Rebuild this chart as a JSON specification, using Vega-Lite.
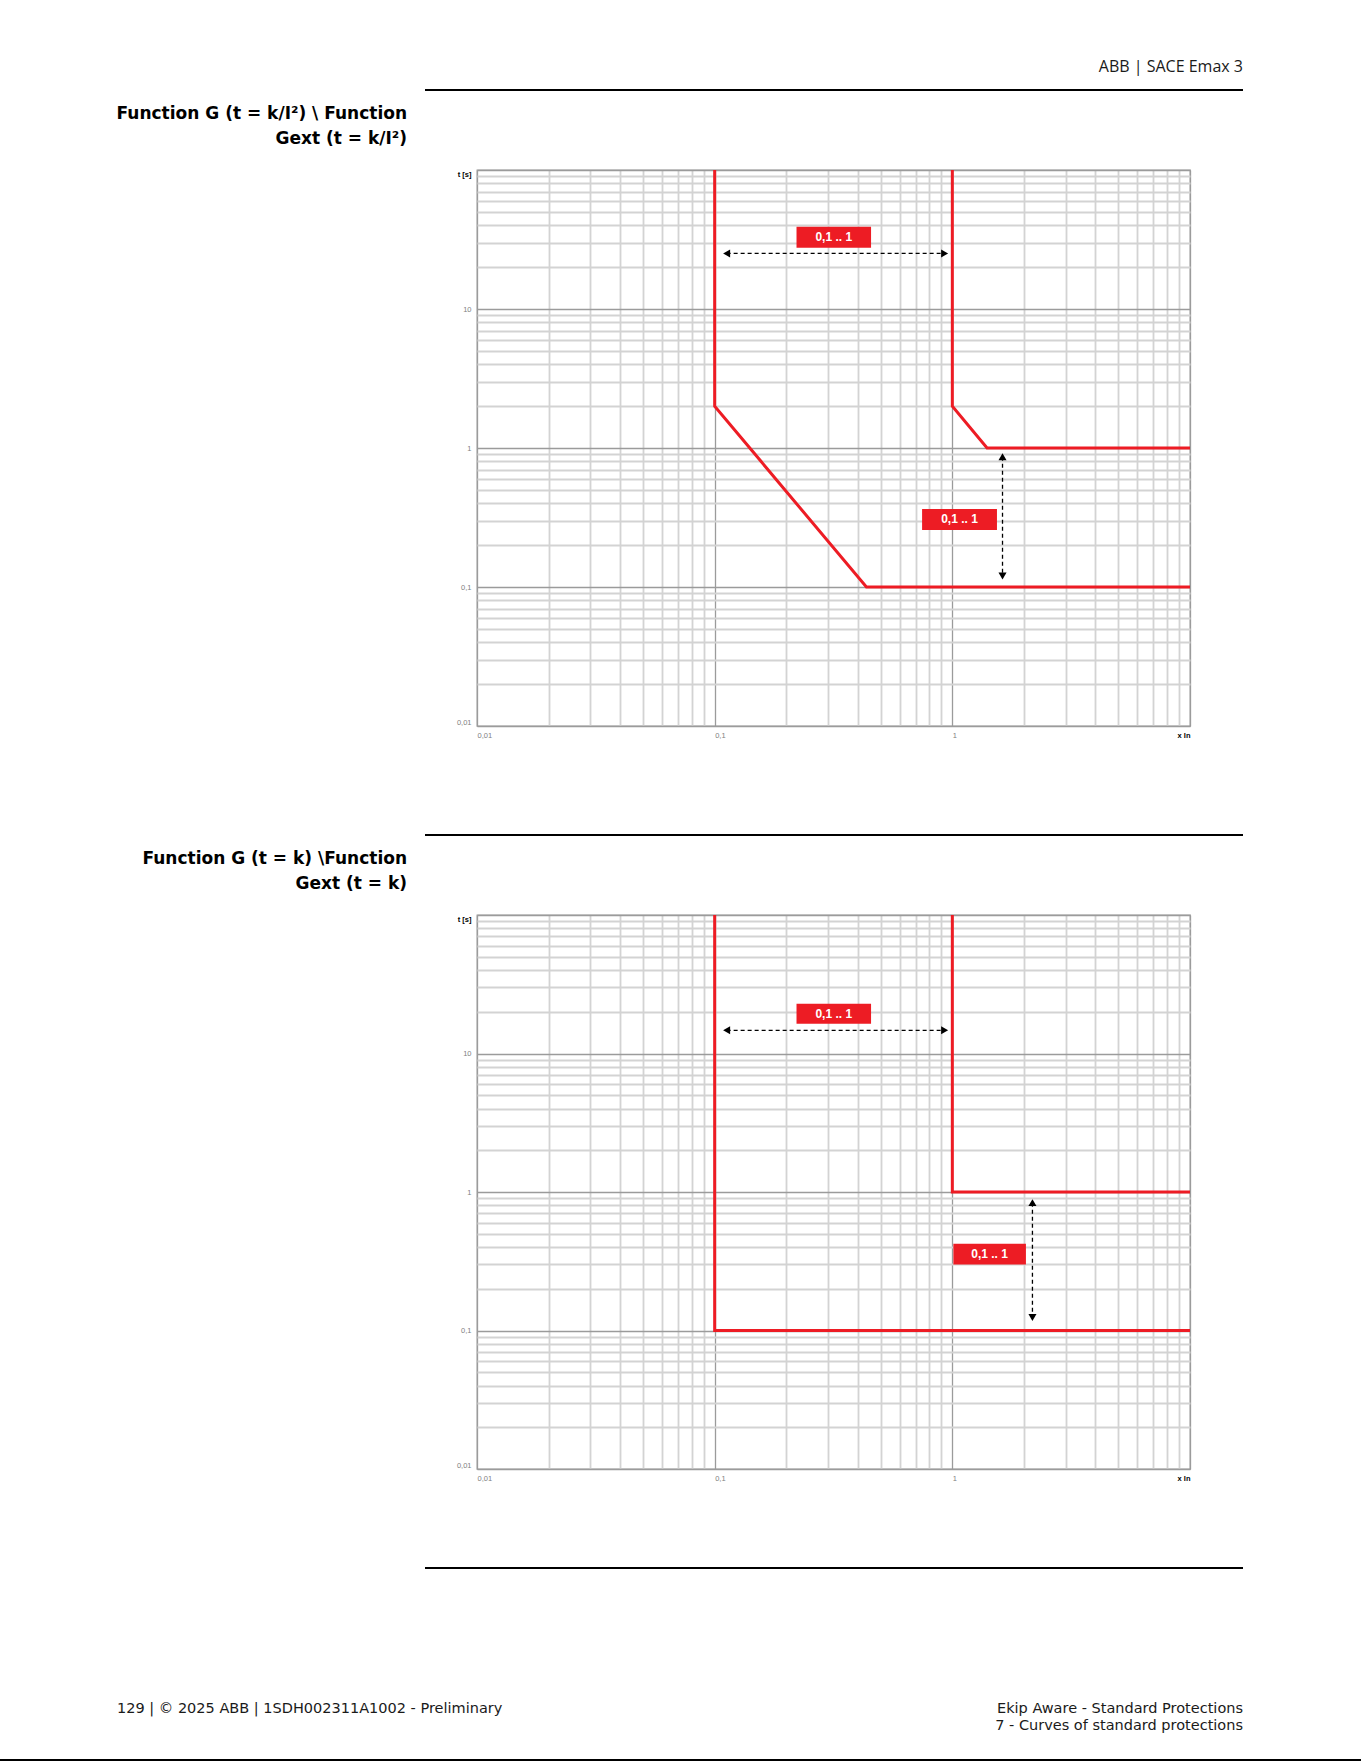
{
  "$schema": "https://vega.github.io/schema/vega-lite/v6.json",
  "padding": 0,
  "background": "#ffffff",
  "spacing": 0,
  "config": {"view": {"stroke": null}},
  "datasets": {
    "curvesA": [
      {"s": "G1", "i": 0, "x": 0.1, "t": 100},
      {"s": "G1", "i": 1, "x": 0.1, "t": 2},
      {"s": "G1", "i": 2, "x": 0.435, "t": 0.1},
      {"s": "G1", "i": 3, "x": 10, "t": 0.1},
      {"s": "G2", "i": 0, "x": 1, "t": 100},
      {"s": "G2", "i": 1, "x": 1, "t": 2},
      {"s": "G2", "i": 2, "x": 1.4, "t": 1},
      {"s": "G2", "i": 3, "x": 10, "t": 1}
    ],
    "curvesB": [
      {"s": "G1", "i": 0, "x": 0.1, "t": 100},
      {"s": "G1", "i": 1, "x": 0.1, "t": 0.1},
      {"s": "G1", "i": 2, "x": 10, "t": 0.1},
      {"s": "G2", "i": 0, "x": 1, "t": 100},
      {"s": "G2", "i": 1, "x": 1, "t": 1},
      {"s": "G2", "i": 2, "x": 10, "t": 1}
    ],
    "arrowsA": [
      {"x": 0.1123, "x2": 0.928, "t": 25.1, "t2": 25.1},
      {"x": 1.626, "x2": 1.626, "t": 0.866, "t2": 0.12}
    ],
    "headsA": [
      {"x": 0.1123, "t": 25.1, "dir": "triangle-left"},
      {"x": 0.928, "t": 25.1, "dir": "triangle-right"},
      {"x": 1.626, "t": 0.866, "dir": "triangle-up"},
      {"x": 1.626, "t": 0.12, "dir": "triangle-down"}
    ],
    "boxesA": [
      {"x": 0.221, "x2": 0.455, "t": 39.1, "t2": 27.6, "xc": 0.317, "tc": 32.9, "label": "0,1 .. 1"},
      {"x": 0.746, "x2": 1.541, "t": 0.364, "t2": 0.257, "xc": 1.072, "tc": 0.306, "label": "0,1 .. 1"}
    ],
    "arrowsB": [
      {"x": 0.1123, "x2": 0.928, "t": 14.7, "t2": 14.7},
      {"x": 2.173, "x2": 2.173, "t": 0.838, "t2": 0.124}
    ],
    "headsB": [
      {"x": 0.1123, "t": 14.7, "dir": "triangle-left"},
      {"x": 0.928, "t": 14.7, "dir": "triangle-right"},
      {"x": 2.173, "t": 0.838, "dir": "triangle-up"},
      {"x": 2.173, "t": 0.124, "dir": "triangle-down"}
    ],
    "boxesB": [
      {"x": 0.221, "x2": 0.455, "t": 22.9, "t2": 16.4, "xc": 0.317, "tc": 19.3, "label": "0,1 .. 1"},
      {"x": 1.01, "x2": 2.04, "t": 0.4227, "t2": 0.2998, "xc": 1.435, "tc": 0.356, "label": "0,1 .. 1"}
    ],
    "page": [
      {"header": "ABB | SACE Emax 3",
       "t1a": "Function G (t = k/I²) \\ Function", "t1b": "Gext (t = k/I²)",
       "t2a": "Function G (t = k) \\Function", "t2b": "Gext (t = k)",
       "fl": "129 | © 2025 ABB | 1SDH002311A1002 - Preliminary",
       "fr1": "Ekip Aware - Standard Protections", "fr2": "7 - Curves of standard protections"}
    ]
  },
  "vconcat": [
    {
      "width": 1243, "height": 89,
      "data": {"name": "page"},
      "mark": {"type": "text", "align": "right", "baseline": "middle", "dy": 22.5, "font": "Open Sans", "fontSize": 16, "color": "#1a1a1a"},
      "encoding": {
        "text": {"field": "header"},
        "x": {"datum": 1, "type": "quantitative", "scale": {"domain": [0, 1], "nice": false, "zero": false}, "axis": null}
      }
    },
    {
      "hconcat": [
        {"width": 425, "height": 2, "data": {"values": []}, "mark": {"type": "point", "opacity": 0}},
        {"width": 818, "height": 2, "view": {"fill": "#000000", "stroke": null}, "data": {"values": []}, "mark": {"type": "point", "opacity": 0}}
      ],
      "spacing": 0, "bounds": "flush"
    },
    {
      "width": 407, "height": 78,
      "data": {"name": "page"},
      "layer": [
        {
          "mark": {"type": "text", "align": "right", "baseline": "middle", "dy": -16.5, "font": "DejaVu Sans", "fontSize": 17, "fontWeight": "bold", "color": "#000000"},
          "encoding": {"text": {"field": "t1a"}, "x": {"datum": 1, "type": "quantitative", "scale": {"domain": [0, 1], "nice": false, "zero": false}, "axis": null}}
        },
        {
          "mark": {"type": "text", "align": "right", "baseline": "middle", "dy": 9, "font": "DejaVu Sans", "fontSize": 17, "fontWeight": "bold", "color": "#000000"},
          "encoding": {"text": {"field": "t1b"}, "x": {"datum": 1, "type": "quantitative", "scale": {"domain": [0, 1], "nice": false, "zero": false}, "axis": null}}
        }
      ]
    },
    {
      "hconcat": [
        {"width": 477, "height": 576, "data": {"values": []}, "mark": {"type": "point", "opacity": 0}},
        {
          "width": 713, "height": 556,
          "view": {"stroke": "#9b9b9b", "strokeWidth": 1.3},
          "layer": [
            {
              "data": {"name": "curvesA"},
              "mark": {"type": "line", "color": "#ed1c24", "strokeWidth": 3, "strokeJoin": "miter", "strokeCap": "butt", "clip": true},
              "encoding": {
                "x": {"field": "x", "type": "quantitative", "scale": {"type": "log", "domain": [0.01, 10], "nice": false},
                  "axis": {"values": [0.01,0.02,0.03,0.04,0.05,0.06,0.07,0.08,0.09,0.1,0.2,0.3,0.4,0.5,0.6,0.7,0.8,0.9,1,2,3,4,5,6,7,8,9,10],
                    "title": null, "domain": false, "ticks": false, "grid": true,
                    "gridColor": {"condition": {"test": "datum.value == 0.01 || datum.value == 0.1 || datum.value == 1 || datum.value == 10", "value": "#9b9b9b"}, "value": "#d3d3d3"},
                    "gridWidth": {"condition": {"test": "datum.value == 0.01 || datum.value == 0.1 || datum.value == 1 || datum.value == 10", "value": 1.3}, "value": 1.8},
                    "labelExpr": "datum.value == 0.01 ? '0,01' : datum.value == 0.1 ? '0,1' : datum.value == 1 ? '1' : datum.value == 10 ? 'x In' : ''",
                    "labelAlign": {"condition": {"test": "datum.value >= 10", "value": "right"}, "value": "left"},
                    "labelColor": {"condition": {"test": "datum.value >= 10", "value": "#000000"}, "value": "#808080"},
                    "labelFontWeight": {"condition": {"test": "datum.value >= 10", "value": "bold"}, "value": "normal"},
                    "labelFont": "Liberation Sans", "labelFontSize": 7.5, "labelPadding": 5,
                    "labelOverlap": false, "labelBound": false, "labelFlush": false}},
                "y": {"field": "t", "type": "quantitative", "scale": {"type": "log", "domain": [0.01, 100], "nice": false},
                  "axis": {"values": [0.01,0.02,0.03,0.04,0.05,0.06,0.07,0.08,0.09,0.1,0.2,0.3,0.4,0.5,0.6,0.7,0.8,0.9,1,2,3,4,5,6,7,8,9,10,20,30,40,50,60,70,80,90,100],
                    "title": null, "domain": false, "ticks": false, "grid": true,
                    "gridColor": {"condition": {"test": "datum.value == 0.01 || datum.value == 0.1 || datum.value == 1 || datum.value == 10 || datum.value == 100", "value": "#9b9b9b"}, "value": "#d3d3d3"},
                    "gridWidth": {"condition": {"test": "datum.value == 0.01 || datum.value == 0.1 || datum.value == 1 || datum.value == 10 || datum.value == 100", "value": 1.3}, "value": 1.8},
                    "labelExpr": "datum.value == 0.01 ? '0,01' : datum.value == 0.1 ? '0,1' : datum.value == 1 ? '1' : datum.value == 10 ? '10' : datum.value == 100 ? 't [s]' : ''",
                    "labelBaseline": {"condition": [{"test": "datum.value >= 100", "value": "top"}, {"test": "datum.value <= 0.01", "value": "bottom"}], "value": "middle"},
                    "labelColor": {"condition": {"test": "datum.value >= 100", "value": "#000000"}, "value": "#808080"},
                    "labelFontWeight": {"condition": {"test": "datum.value >= 100", "value": "bold"}, "value": "normal"},
                    "labelFont": "Liberation Sans", "labelFontSize": 7.5, "labelPadding": 6,
                    "labelOverlap": false, "labelBound": false, "labelFlush": false}},
                "detail": {"field": "s"},
                "order": {"field": "i"}
              }
            },
            {
              "data": {"name": "arrowsA"},
              "mark": {"type": "rule", "color": "#000000", "strokeWidth": 1.3, "strokeDash": [4, 3]},
              "encoding": {
                "x": {"field": "x", "type": "quantitative", "scale": {"type": "log", "domain": [0.01, 10], "nice": false}},
                "x2": {"field": "x2"},
                "y": {"field": "t", "type": "quantitative", "scale": {"type": "log", "domain": [0.01, 100], "nice": false}},
                "y2": {"field": "t2"}
              }
            },
            {
              "data": {"name": "headsA"},
              "mark": {"type": "point", "filled": true, "color": "#000000", "opacity": 1, "size": 65, "strokeWidth": 0},
              "encoding": {
                "x": {"field": "x", "type": "quantitative", "scale": {"type": "log", "domain": [0.01, 10], "nice": false}},
                "y": {"field": "t", "type": "quantitative", "scale": {"type": "log", "domain": [0.01, 100], "nice": false}},
                "shape": {"field": "dir", "type": "nominal", "scale": null, "legend": null}
              }
            },
            {
              "data": {"name": "boxesA"},
              "mark": {"type": "rect", "color": "#ed1c24"},
              "encoding": {
                "x": {"field": "x", "type": "quantitative", "scale": {"type": "log", "domain": [0.01, 10], "nice": false}},
                "x2": {"field": "x2"},
                "y": {"field": "t", "type": "quantitative", "scale": {"type": "log", "domain": [0.01, 100], "nice": false}},
                "y2": {"field": "t2"}
              }
            },
            {
              "data": {"name": "boxesA"},
              "mark": {"type": "text", "color": "#ffffff", "font": "Liberation Sans", "fontSize": 12, "fontWeight": "bold", "align": "center", "baseline": "middle"},
              "encoding": {
                "x": {"field": "xc", "type": "quantitative", "scale": {"type": "log", "domain": [0.01, 10], "nice": false}},
                "y": {"field": "tc", "type": "quantitative", "scale": {"type": "log", "domain": [0.01, 100], "nice": false}},
                "text": {"field": "label"}
              }
            }
          ]
        }
      ],
      "spacing": 0, "bounds": "flush"
    },
    {"width": 10, "height": 88, "data": {"values": []}, "mark": {"type": "point", "opacity": 0}},
    {
      "hconcat": [
        {"width": 425, "height": 2, "data": {"values": []}, "mark": {"type": "point", "opacity": 0}},
        {"width": 818, "height": 2, "view": {"fill": "#000000", "stroke": null}, "data": {"values": []}, "mark": {"type": "point", "opacity": 0}}
      ],
      "spacing": 0, "bounds": "flush"
    },
    {
      "width": 407, "height": 78,
      "data": {"name": "page"},
      "layer": [
        {
          "mark": {"type": "text", "align": "right", "baseline": "middle", "dy": -15.8, "font": "DejaVu Sans", "fontSize": 17, "fontWeight": "bold", "color": "#000000"},
          "encoding": {"text": {"field": "t2a"}, "x": {"datum": 1, "type": "quantitative", "scale": {"domain": [0, 1], "nice": false, "zero": false}, "axis": null}}
        },
        {
          "mark": {"type": "text", "align": "right", "baseline": "middle", "dy": 8.5, "font": "DejaVu Sans", "fontSize": 17, "fontWeight": "bold", "color": "#000000"},
          "encoding": {"text": {"field": "t2b"}, "x": {"datum": 1, "type": "quantitative", "scale": {"domain": [0, 1], "nice": false, "zero": false}, "axis": null}}
        }
      ]
    },
    {
      "hconcat": [
        {"width": 477, "height": 574, "data": {"values": []}, "mark": {"type": "point", "opacity": 0}},
        {
          "width": 713, "height": 554,
          "view": {"stroke": "#9b9b9b", "strokeWidth": 1.3},
          "layer": [
            {
              "data": {"name": "curvesB"},
              "mark": {"type": "line", "color": "#ed1c24", "strokeWidth": 3, "strokeJoin": "miter", "strokeCap": "butt", "clip": true},
              "encoding": {
                "x": {"field": "x", "type": "quantitative", "scale": {"type": "log", "domain": [0.01, 10], "nice": false},
                  "axis": {"values": [0.01,0.02,0.03,0.04,0.05,0.06,0.07,0.08,0.09,0.1,0.2,0.3,0.4,0.5,0.6,0.7,0.8,0.9,1,2,3,4,5,6,7,8,9,10],
                    "title": null, "domain": false, "ticks": false, "grid": true,
                    "gridColor": {"condition": {"test": "datum.value == 0.01 || datum.value == 0.1 || datum.value == 1 || datum.value == 10", "value": "#9b9b9b"}, "value": "#d3d3d3"},
                    "gridWidth": {"condition": {"test": "datum.value == 0.01 || datum.value == 0.1 || datum.value == 1 || datum.value == 10", "value": 1.3}, "value": 1.8},
                    "labelExpr": "datum.value == 0.01 ? '0,01' : datum.value == 0.1 ? '0,1' : datum.value == 1 ? '1' : datum.value == 10 ? 'x In' : ''",
                    "labelAlign": {"condition": {"test": "datum.value >= 10", "value": "right"}, "value": "left"},
                    "labelColor": {"condition": {"test": "datum.value >= 10", "value": "#000000"}, "value": "#808080"},
                    "labelFontWeight": {"condition": {"test": "datum.value >= 10", "value": "bold"}, "value": "normal"},
                    "labelFont": "Liberation Sans", "labelFontSize": 7.5, "labelPadding": 5,
                    "labelOverlap": false, "labelBound": false, "labelFlush": false}},
                "y": {"field": "t", "type": "quantitative", "scale": {"type": "log", "domain": [0.01, 100], "nice": false},
                  "axis": {"values": [0.01,0.02,0.03,0.04,0.05,0.06,0.07,0.08,0.09,0.1,0.2,0.3,0.4,0.5,0.6,0.7,0.8,0.9,1,2,3,4,5,6,7,8,9,10,20,30,40,50,60,70,80,90,100],
                    "title": null, "domain": false, "ticks": false, "grid": true,
                    "gridColor": {"condition": {"test": "datum.value == 0.01 || datum.value == 0.1 || datum.value == 1 || datum.value == 10 || datum.value == 100", "value": "#9b9b9b"}, "value": "#d3d3d3"},
                    "gridWidth": {"condition": {"test": "datum.value == 0.01 || datum.value == 0.1 || datum.value == 1 || datum.value == 10 || datum.value == 100", "value": 1.3}, "value": 1.8},
                    "labelExpr": "datum.value == 0.01 ? '0,01' : datum.value == 0.1 ? '0,1' : datum.value == 1 ? '1' : datum.value == 10 ? '10' : datum.value == 100 ? 't [s]' : ''",
                    "labelBaseline": {"condition": [{"test": "datum.value >= 100", "value": "top"}, {"test": "datum.value <= 0.01", "value": "bottom"}], "value": "middle"},
                    "labelColor": {"condition": {"test": "datum.value >= 100", "value": "#000000"}, "value": "#808080"},
                    "labelFontWeight": {"condition": {"test": "datum.value >= 100", "value": "bold"}, "value": "normal"},
                    "labelFont": "Liberation Sans", "labelFontSize": 7.5, "labelPadding": 6,
                    "labelOverlap": false, "labelBound": false, "labelFlush": false}},
                "detail": {"field": "s"},
                "order": {"field": "i"}
              }
            },
            {
              "data": {"name": "arrowsB"},
              "mark": {"type": "rule", "color": "#000000", "strokeWidth": 1.3, "strokeDash": [4, 3]},
              "encoding": {
                "x": {"field": "x", "type": "quantitative", "scale": {"type": "log", "domain": [0.01, 10], "nice": false}},
                "x2": {"field": "x2"},
                "y": {"field": "t", "type": "quantitative", "scale": {"type": "log", "domain": [0.01, 100], "nice": false}},
                "y2": {"field": "t2"}
              }
            },
            {
              "data": {"name": "headsB"},
              "mark": {"type": "point", "filled": true, "color": "#000000", "opacity": 1, "size": 65, "strokeWidth": 0},
              "encoding": {
                "x": {"field": "x", "type": "quantitative", "scale": {"type": "log", "domain": [0.01, 10], "nice": false}},
                "y": {"field": "t", "type": "quantitative", "scale": {"type": "log", "domain": [0.01, 100], "nice": false}},
                "shape": {"field": "dir", "type": "nominal", "scale": null, "legend": null}
              }
            },
            {
              "data": {"name": "boxesB"},
              "mark": {"type": "rect", "color": "#ed1c24"},
              "encoding": {
                "x": {"field": "x", "type": "quantitative", "scale": {"type": "log", "domain": [0.01, 10], "nice": false}},
                "x2": {"field": "x2"},
                "y": {"field": "t", "type": "quantitative", "scale": {"type": "log", "domain": [0.01, 100], "nice": false}},
                "y2": {"field": "t2"}
              }
            },
            {
              "data": {"name": "boxesB"},
              "mark": {"type": "text", "color": "#ffffff", "font": "Liberation Sans", "fontSize": 12, "fontWeight": "bold", "align": "center", "baseline": "middle"},
              "encoding": {
                "x": {"field": "xc", "type": "quantitative", "scale": {"type": "log", "domain": [0.01, 10], "nice": false}},
                "y": {"field": "tc", "type": "quantitative", "scale": {"type": "log", "domain": [0.01, 100], "nice": false}},
                "text": {"field": "label"}
              }
            }
          ]
        }
      ],
      "spacing": 0, "bounds": "flush"
    },
    {"width": 10, "height": 77.5, "data": {"values": []}, "mark": {"type": "point", "opacity": 0}},
    {
      "hconcat": [
        {"width": 425, "height": 2, "data": {"values": []}, "mark": {"type": "point", "opacity": 0}},
        {"width": 818, "height": 2, "view": {"fill": "#000000", "stroke": null}, "data": {"values": []}, "mark": {"type": "point", "opacity": 0}}
      ],
      "spacing": 0, "bounds": "flush"
    },
    {
      "hconcat": [
        {"width": 117, "height": 190, "data": {"values": []}, "mark": {"type": "point", "opacity": 0}},
        {
          "width": 1126, "height": 190,
          "data": {"name": "page"},
          "layer": [
            {
              "mark": {"type": "text", "align": "left", "baseline": "middle", "dy": 45, "font": "DejaVu Sans", "fontSize": 14.5, "color": "#1a1a1a"},
              "encoding": {"text": {"field": "fl"}, "x": {"datum": 0, "type": "quantitative", "scale": {"domain": [0, 1], "nice": false, "zero": false}, "axis": null}}
            },
            {
              "mark": {"type": "text", "align": "right", "baseline": "middle", "dy": 45, "font": "DejaVu Sans", "fontSize": 14.5, "color": "#1a1a1a"},
              "encoding": {"text": {"field": "fr1"}, "x": {"datum": 1, "type": "quantitative", "scale": {"domain": [0, 1], "nice": false, "zero": false}, "axis": null}}
            },
            {
              "mark": {"type": "text", "align": "right", "baseline": "middle", "dy": 62, "font": "DejaVu Sans", "fontSize": 14.5, "color": "#1a1a1a"},
              "encoding": {"text": {"field": "fr2"}, "x": {"datum": 1, "type": "quantitative", "scale": {"domain": [0, 1], "nice": false, "zero": false}, "axis": null}}
            }
          ]
        }
      ],
      "spacing": 0, "bounds": "flush"
    },
    {"width": 1361, "height": 3, "view": {"fill": "#000000", "stroke": null}, "data": {"values": []}, "mark": {"type": "point", "opacity": 0}}
  ]
}
